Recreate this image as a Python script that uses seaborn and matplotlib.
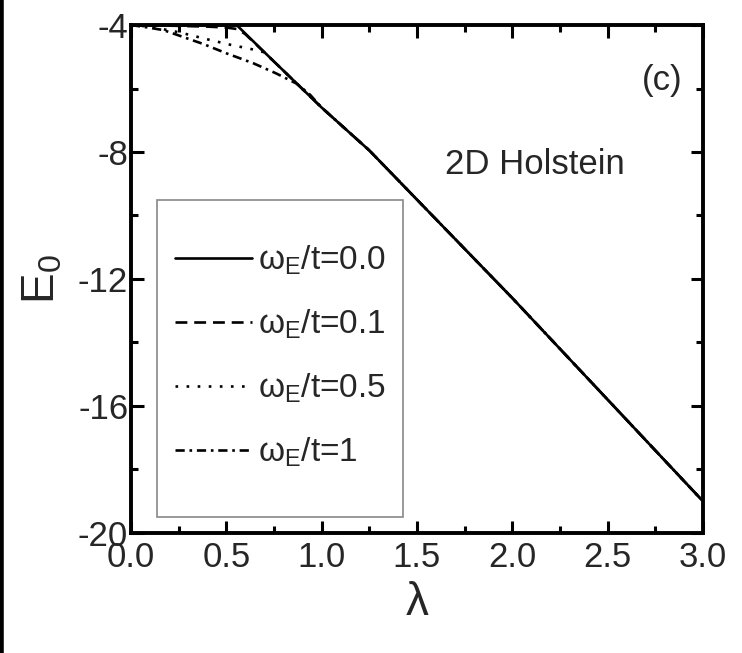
import numpy as np
import pandas as pd
import matplotlib
matplotlib.use("Agg")
import matplotlib.pyplot as plt
from matplotlib.ticker import MultipleLocator, FormatStrFormatter
from matplotlib.lines import Line2D
from matplotlib.patches import Rectangle
import seaborn as sns

# ground state energy E0 vs coupling lambda
lam_w00 = [0.0, 0.3, 0.554, 0.75, 1.0, 1.25, 1.5, 2.0, 2.5, 3.0]
e_w00 = [-4.0, -4.0, -4.0, -5.15, -6.6, -7.95, -9.5, -12.6, -15.8, -19.0]

lam_w01 = [0.0, 0.2, 0.4, 0.5, 0.56, 0.6, 0.75, 1.0, 1.25, 1.5, 2.0, 2.5, 3.0]
e_w01 = [-4.0, -4.02, -4.05, -4.08, -4.13, -4.29, -5.15, -6.6, -7.95, -9.5, -12.6, -15.8, -19.0]

lam_w05 = [0.0, 0.1, 0.26, 0.4, 0.52, 0.64, 0.7, 0.75, 1.0, 1.25, 1.5, 2.0, 2.5, 3.0]
e_w05 = [-4.0, -4.05, -4.24, -4.45, -4.62, -4.77, -4.86, -5.15, -6.6, -7.95, -9.5, -12.6, -15.8, -19.0]

lam_w1 = [0.0, 0.08, 0.17, 0.38, 0.5, 0.64, 0.76, 0.87, 0.94, 1.0, 1.25, 1.5, 2.0, 2.5, 3.0]
e_w1 = [-4.0, -4.07, -4.16, -4.6, -4.89, -5.2, -5.52, -5.85, -6.2, -6.6, -7.95, -9.5, -12.6, -15.8, -19.0]

labels = ["0.0", "0.1", "0.5", "1"]

sns.set_theme(style="white")
plt.rcParams["font.family"] = ["Liberation Sans", "DejaVu Sans"]
plt.rcParams["mathtext.fontset"] = "custom"
plt.rcParams["mathtext.rm"] = "Liberation Sans"
plt.rcParams["mathtext.it"] = "Liberation Sans"

fig = plt.figure(figsize=(7.42, 6.53), dpi=100)
ax = fig.add_axes([0.1765, 0.1838, 0.7709, 0.7779])

styles = ["-", (0, (4.5, 2.6)), (0, (1, 3.2)), (0, (3.5, 1.8, 1, 1.8))]
series = [(lam_w00, e_w00), (lam_w01, e_w01), (lam_w05, e_w05), (lam_w1, e_w1)]
handles = []
# draw the quantum curves first, the adiabatic one on top
for (xs, ys), ls, lab in list(zip(series, styles, labels))[::-1]:
    df = pd.DataFrame({"lam": xs, "E": ys})
    sns.lineplot(data=df, x="lam", y="E", ax=ax, color="black",
                 linestyle=ls, linewidth=1.9, sort=False, estimator=None)
for ls, lab in zip(styles, labels):
    handles.append(Line2D([], [], color="black", linestyle=ls, linewidth=1.9,
                          label=r"$\mathregular{\omega_E}$/t=" + lab))

ax.set_xlim(0, 3)
ax.set_ylim(-20, -4)
ax.xaxis.set_major_locator(MultipleLocator(0.5))
ax.xaxis.set_minor_locator(MultipleLocator(0.25))
ax.yaxis.set_major_locator(MultipleLocator(4))
ax.yaxis.set_minor_locator(MultipleLocator(2))
ax.xaxis.set_major_formatter(FormatStrFormatter("%.1f"))
ax.yaxis.set_major_formatter(FormatStrFormatter("%d"))
ax.tick_params(which="both", direction="in", top=True, right=True,
               bottom=True, left=True, color="black", width=2.2,
               labelsize=25)
ax.tick_params(axis="x", which="major", pad=6)
ax.tick_params(axis="y", which="major", pad=2)
ax.tick_params(which="major", length=9)
ax.tick_params(which="minor", length=5)
for sp in ax.spines.values():
    sp.set_color("black")
    sp.set_linewidth(2.8)

ax.set_xlabel("λ", fontsize=33, labelpad=5)
ax.set_ylabel(r"E$_\mathregular{0}$", fontsize=33, labelpad=10)

ax.text(2.785, -5.76, "(c)", fontsize=25, ha="center", va="center")
ax.text(2.12, -8.4, "2D Holstein", fontsize=25, ha="center", va="center")

leg = ax.legend(handles=handles, loc="center left", bbox_to_anchor=(0.077, 0.348),
                fontsize=24, frameon=False, handlelength=2.3,
                handletextpad=0.2, labelspacing=0.92, borderpad=0,
                borderaxespad=0)
ax.add_patch(Rectangle((0.0455, 0.0315), 0.43, 0.624, transform=ax.transAxes,
                       fill=False, edgecolor="#888888", linewidth=1.2, zorder=5))

# dark edge at the left of the image
fig.add_artist(Line2D([0.002, 0.002], [0, 1], color="black", linewidth=4,
                      transform=fig.transFigure))

fig.savefig("out.png", dpi=100)
